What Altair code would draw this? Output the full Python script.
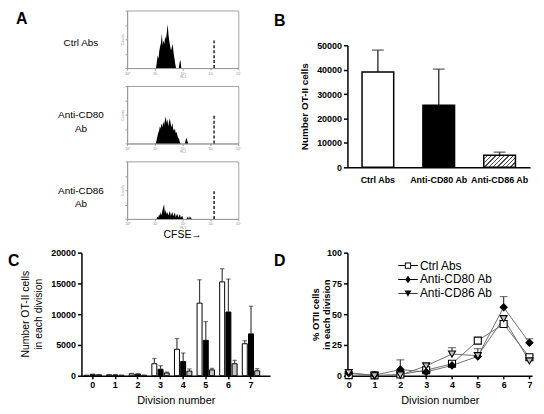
import altair as alt
import pandas as pd

FONT = "Liberation Sans"

groups = ["Ctrl Abs", "Anti-CD80 Ab", "Anti-CD86 Ab"]
group_fills = ["white", "black", "#c4c4c4"]

# ---------------- Panel A: CFSE histograms (x = log10 FL1, y = % of frame height)
ctrl_hist_x = [1.04, 1.07, 1.10, 1.13, 1.16, 1.19, 1.22, 1.25, 1.28, 1.31, 1.34, 1.37, 1.40, 1.43, 1.46,
               1.49, 1.52, 1.55, 1.58, 1.61, 1.64, 1.67, 1.70, 1.73, 1.76, 1.86, 1.89, 1.92, 1.95]
ctrl_hist_y = [0, 10, 22, 16, 30, 38, 44, 60, 40, 48, 42, 55, 50, 62, 76,
               58, 46, 38, 30, 36, 42, 28, 18, 8, 0, 0, 10, 14, 0]
cd80_hist_x = [1.03, 1.06, 1.09, 1.12, 1.15, 1.18, 1.21, 1.24, 1.27, 1.30, 1.33, 1.36, 1.39, 1.42, 1.45,
               1.48, 1.51, 1.54, 1.57, 1.60, 1.63, 1.66, 1.69, 1.72, 1.75, 1.78, 1.81, 1.84, 1.87, 1.90,
               1.93, 2.08, 2.11, 2.14, 2.17, 2.20]
cd80_hist_y = [0, 5, 12, 18, 22, 30, 26, 35, 28, 38, 32, 40, 47, 36, 42,
               30, 38, 43, 34, 28, 35, 25, 22, 26, 18, 20, 14, 10, 8, 2,
               0, 0, 6, 10, 4, 0]
cd86_hist_x = [1.06, 1.09, 1.12, 1.15, 1.18, 1.21, 1.24, 1.27, 1.30, 1.33, 1.36, 1.39, 1.42, 1.45, 1.48,
               1.51, 1.54, 1.57, 1.60, 1.63, 1.66, 1.69, 1.72, 1.75, 1.78, 1.81, 1.84, 1.87, 1.90, 1.93,
               1.96, 1.99, 2.02, 2.14, 2.17, 2.20, 2.23, 2.26, 2.29, 2.32]
cd86_hist_y = [0, 4, 2, 8, 5, 12, 6, 14, 20, 26, 10, 16, 8, 12, 6,
               10, 14, 5, 9, 12, 4, 8, 11, 3, 7, 9, 2, 6, 8, 2,
               4, 5, 0, 0, 4, 0, 5, 0, 4, 0]
cfse_marker_x = 3.13
cfse_marker_top = 48
hist_ticks_x = [0, 1, 2, 3, 4]
hist_ticks_y = [0, 25, 50, 75, 100]

# ---------------- Panel B: total OT-II cells
b_mean = [39000, 25400, 4900]
b_upper = [48000, 40200, 6200]

# ---------------- Panel C: cells per division
divisions = [0, 1, 2, 3, 4, 5, 6, 7]
c_ctrl = [50, 150, 300, 1950, 4300, 11800, 15250, 5200]
c_ctrl_upper = [80, 200, 380, 2800, 6050, 15600, 17400, 5700]
c_cd80 = [200, 120, 250, 1050, 2300, 5750, 10350, 6800]
c_cd80_upper = [260, 170, 320, 1650, 3700, 8800, 15700, 11300]
c_cd86 = [150, 60, 60, 450, 750, 950, 1950, 800]
c_cd86_upper = [200, 90, 90, 600, 1100, 1200, 2500, 1150]

# ---------------- Panel D: % cells per division
d_ctrl = [0.5, 0.3, 1.0, 4.5, 9.7, 28.5, 42.0, 15.0]
d_ctrl_upper = [0.5, 0.3, 1.0, 4.5, 11.0, 28.5, 42.0, 16.5]
d_cd80 = [2.0, 0.5, 5.0, 3.0, 8.4, 15.7, 55.6, 26.8]
d_cd80_upper = [2.0, 0.5, 12.9, 3.0, 8.4, 15.7, 64.3, 30.0]
d_cd86 = [2.5, 0.0, 0.5, 8.0, 17.6, 16.3, 46.4, 12.0]
d_cd86_upper = [2.5, 0.0, 0.5, 9.5, 22.8, 22.0, 46.4, 12.0]

# legend glyphs: line stubs + marker (filled shapes, ring for the open square)
legend_paths = [
    "M-2.8,-0.13L-0.9,-0.13L-0.9,0.13L-2.8,0.13Z M0.9,-0.13L2.8,-0.13L2.8,0.13L0.9,0.13Z "
    "M-0.9,-0.9L0.9,-0.9L0.9,0.9L-0.9,0.9Z M-0.62,-0.62L-0.62,0.62L0.62,0.62L0.62,-0.62Z",
    "M-2.8,-0.13L-0.75,-0.13L-0.75,0.13L-2.8,0.13Z M0.75,-0.13L2.8,-0.13L2.8,0.13L0.75,0.13Z "
    "M0,-1.1L0.8,0L0,1.1L-0.8,0Z",
    "M-2.8,-0.13L-0.5,-0.13L-0.5,0.13L-2.8,0.13Z M0.5,-0.13L2.8,-0.13L2.8,0.13L0.5,0.13Z "
    "M-1,-0.8L1,-0.8L0,1Z",
]

# diagonal hatching for the Anti-CD86 bar in panel B (a striped linear gradient)
hatch_stops = []
for k in range(10):
    a = k / 10.0
    hatch_stops += [{"offset": a, "color": "white"}, {"offset": a + 0.068, "color": "white"},
                    {"offset": a + 0.068, "color": "#4a4a4a"}, {"offset": a + 0.1, "color": "#4a4a4a"}]
hatch_fill = {"gradient": "linear", "x1": 0, "y1": 0, "x2": 1.2, "y2": 0.45, "stops": hatch_stops}


def axis(**kw):
    base = dict(grid=False, labelFont=FONT, labelFontSize=9, labelFontWeight="bold",
                labelColor="black", domainColor="black", domainWidth=1.5,
                tickColor="black", tickWidth=1.5, tickSize=4, labelPadding=2,
                titleFont=FONT, titleColor="black", labelFlush=False)
    base.update(kw)
    return alt.Axis(**base)


def letter(text, dx, dy):
    return alt.TitleParams(text, anchor="start", frame="group", orient="top", offset=0,
                           dx=dx, dy=dy, baseline="top", font=FONT, fontSize=16,
                           fontWeight="bold", color="black")


HW, HH = 112, 58


def hist_panel(xs, ys, label, label_y, title=None):
    df = pd.DataFrame({"fl": xs, "count": ys})
    mk = pd.DataFrame({"fl": [cfse_marker_x], "count": [0], "top": [cfse_marker_top]})
    xaxis = alt.Axis(values=hist_ticks_x,
                     labelExpr="'10' + ['\u2070','\u00b9','\u00b2','\u00b3','\u2074'][datum.value]",
                     labelFont=FONT, labelFontSize=3.5, labelColor="#888", labelPadding=1, labelFlush=False,
                     tickSize=2, tickColor="#999", domainColor="#999", domainWidth=1, grid=False,
                     title="FL1", titleFont=FONT, titleFontSize=3.5, titleColor="#888", titlePadding=0,
                     titleFontWeight="normal")
    yaxis = alt.Axis(values=hist_ticks_y, labelExpr="datum.value == 50 ? 'Counts' : ''",
                     labelFont=FONT, labelFontSize=3.5, labelColor="#888", labelAngle=270,
                     labelAlign="center", labelBaseline="bottom", labelPadding=1,
                     tickSize=2, tickColor="#999", domainColor="#999", domainWidth=1, grid=False,
                     title=label, titleAngle=0, titleAlign="center", titleBaseline="middle",
                     titleX=-47, titleY=label_y, titleFont=FONT, titleFontSize=10,
                     titleFontWeight="normal", titleColor="black", titleLineHeight=14)
    hx = alt.X("fl:Q", scale=alt.Scale(domain=[0, 4], nice=False, zero=False), axis=xaxis)
    hy = alt.Y("count:Q", scale=alt.Scale(domain=[0, 100], nice=False), axis=yaxis)
    area = alt.Chart(df).mark_area(color="black", interpolate="linear").encode(x=hx, y=hy)
    rule = alt.Chart(mk).mark_rule(color="black", strokeDash=[3, 2], strokeWidth=1.3).encode(
        x=hx, y=hy, y2="top:Q")
    props = dict(width=HW, height=HH, view=alt.ViewBackground(stroke="#a0a0a0", strokeWidth=1))
    if title is not None:
        props["title"] = title
    return alt.layer(area, rule).properties(**props)


A1 = hist_panel(ctrl_hist_x, ctrl_hist_y, "Ctrl Abs", HH * 0.56, letter("A", -112, 17))
A2 = hist_panel(cd80_hist_x, cd80_hist_y, ["Anti-CD80", "Ab"], HH * 0.5)
A3 = hist_panel(cd86_hist_x, cd86_hist_y, ["Anti-CD86", "Ab"], HH * 0.5,
                alt.TitleParams("CFSE\u2192", orient="bottom", anchor="middle", frame="group",
                                offset=0, dy=1, baseline="top", font=FONT, fontSize=10.5,
                                fontWeight="normal", color="black"))

# ---------------- Panel B
b_df = pd.DataFrame({"group": groups, "mean": b_mean, "upper": b_upper})
b_yaxis = axis(values=[0, 10000, 20000, 30000, 40000, 50000], format="d",
               title="Number OT-II cells", titleFontSize=10, titleFontWeight="bold",
               titleAngle=270, titleAlign="center", titleX=-43, titleBaseline="middle")
bx = alt.X("group:N", sort=groups, scale=alt.Scale(paddingInner=0.48, paddingOuter=0.24),
           axis=axis(title=None, ticks=False, labelAngle=0, labelFontSize=9, labelPadding=8))
by = alt.Y("mean:Q", scale=alt.Scale(domain=[0, 50000], nice=False), axis=b_yaxis)
by_up = alt.Y("upper:Q", scale=alt.Scale(domain=[0, 50000], nice=False), axis=b_yaxis)
b_err = alt.Chart(b_df).mark_rule(color="#404040", strokeWidth=1.5).encode(x=bx, y=by, y2="upper:Q")
b_cap = alt.Chart(b_df).mark_tick(color="#404040", thickness=1.5, size=12, orient="horizontal").encode(
    x=bx, y=by_up)
b_bars = alt.Chart(b_df).transform_filter(alt.datum.group != groups[2]).mark_bar(
    stroke="black", strokeWidth=1.5).encode(
    x=bx, y=by,
    fill=alt.Fill("group:N", sort=groups, scale=alt.Scale(domain=groups, range=group_fills), legend=None))
b_hatch = alt.Chart(b_df).transform_filter(alt.datum.group == groups[2]).mark_bar(
    stroke="black", strokeWidth=1.5, fill=hatch_fill).encode(x=bx, y=by)
B = alt.layer(b_err, b_cap, b_bars, b_hatch).properties(width=184, height=123, title=letter("B", -74, -12))

# ---------------- Panel C
c_rows = []
for g, vals, ups in zip(groups, [c_ctrl, c_cd80, c_cd86], [c_ctrl_upper, c_cd80_upper, c_cd86_upper]):
    for d, v, u in zip(divisions, vals, ups):
        c_rows.append({"division": d, "group": g, "value": v, "upper": u})
c_df = pd.DataFrame(c_rows)
cx_scale = alt.Scale(paddingInner=0.23, paddingOuter=0.285, align=0.2)
cxo = alt.XOffset("group:N", sort=groups, scale=alt.Scale(domain=groups, paddingInner=0.2, paddingOuter=0))
cx = alt.X("division:O", scale=cx_scale,
           axis=axis(labelAngle=0, tickSize=3, title="Division number", titleFontSize=11,
                     titleFontWeight="normal", titlePadding=5))
c_yaxis = axis(values=[0, 5000, 10000, 15000, 20000], format="d", title=None)
cy = alt.Y("value:Q", scale=alt.Scale(domain=[0, 20000], nice=False), axis=c_yaxis)
cy_up = alt.Y("upper:Q", scale=alt.Scale(domain=[0, 20000], nice=False), axis=c_yaxis)
c_err = alt.Chart(c_df).mark_rule(color="#404040", strokeWidth=1.2).encode(
    x=cx, xOffset=cxo, y=cy, y2="upper:Q")
c_cap = alt.Chart(c_df).mark_tick(color="#404040", thickness=1.2, size=4.5, orient="horizontal").encode(
    x=cx, xOffset=cxo, y=cy_up)
c_bars = alt.Chart(c_df).mark_bar(stroke="black", strokeWidth=1).encode(
    x=cx, xOffset=cxo, y=cy,
    fill=alt.Fill("group:N", sort=groups, scale=alt.Scale(domain=groups, range=group_fills), legend=None))
c_ytitle = alt.TitleParams(["Number OT-II cells", "in each division"], orient="left", anchor="middle",
                           frame="group", angle=270, offset=6, font=FONT, fontSize=10.5,
                           fontWeight="normal", lineHeight=13, color="black")
C = alt.layer(c_bars, c_err, c_cap).properties(width=190, height=124, title=c_ytitle)

# ---------------- Panel D
d_rows = []
for g, vals, ups in zip(groups, [d_ctrl, d_cd80, d_cd86], [d_ctrl_upper, d_cd80_upper, d_cd86_upper]):
    for d, v, u in zip(divisions, vals, ups):
        d_rows.append({"division": d, "group": g, "value": v, "upper": u})
d_df = pd.DataFrame(d_rows)
dx_scale = alt.Scale(domain=[-0.05, 7.1], nice=False, zero=False)
dy_scale = alt.Scale(domain=[0, 100], nice=False)
d_xaxis = axis(values=divisions, format="d", tickSize=3, title="Division number",
               titleFontSize=11, titleFontWeight="normal", titlePadding=5)
d_yaxis = axis(values=[0, 25, 50, 75, 100], format="d",
               title=["% OTII cells", "in each division"], titleFontSize=9.5,
               titleFontWeight="bold", titleLineHeight=11, titleAngle=270, titleAlign="center",
               titleX=-32.5, titleBaseline="middle")
dxe = alt.X("division:Q", scale=dx_scale, axis=d_xaxis)
dye = alt.Y("value:Q", scale=dy_scale, axis=d_yaxis)
dye_up = alt.Y("upper:Q", scale=dy_scale, axis=d_yaxis)
d_lines = alt.Chart(d_df).mark_line(color="#707070", strokeWidth=1).encode(
    x=dxe, y=dye, detail="group:N")
d_err = alt.Chart(d_df).transform_filter("datum.upper > datum.value").mark_rule(
    color="#404040", strokeWidth=1.2).encode(x=dxe, y=dye, y2="upper:Q")
d_cap = alt.Chart(d_df).transform_filter("datum.upper > datum.value").mark_tick(
    color="#404040", thickness=1.2, size=8, orient="horizontal").encode(x=dxe, y=dye_up)
d_pts = alt.Chart(d_df).mark_point(filled=True, stroke="black", strokeWidth=1.1, size=50, opacity=1).encode(
    x=dxe, y=dye,
    shape=alt.Shape("group:N", sort=groups,
                    scale=alt.Scale(domain=groups, range=["square", "diamond", "triangle-down"]), legend=None),
    fill=alt.Fill("group:N", sort=groups,
                  scale=alt.Scale(domain=groups, range=["white", "black", "black"]), legend=None))
d_leg = alt.Chart(d_df).transform_filter("false").mark_point(
    filled=True, color="black", size=49, opacity=1).encode(
    x=dxe, y=dye,
    shape=alt.Shape("group:N", sort=groups,
                    scale=alt.Scale(domain=groups, range=legend_paths),
                    legend=alt.Legend(title=None, orient="none", legendX=55, legendY=7,
                                      labelFont=FONT, labelFontSize=12, labelColor="black",
                                      symbolSize=49, symbolStrokeWidth=0, symbolOpacity=1,
                                      symbolFillColor="black", labelOffset=6, rowPadding=2,
                                      padding=0)))
D = alt.layer(d_lines, d_err, d_cap, d_pts, d_leg).resolve_scale(shape="independent").properties(
    width=186, height=124, title=letter("D", -74, 20))

# ---------------- layout
spacer_df = pd.DataFrame({"v": [0]})


def spacer(w, h):
    return alt.Chart(spacer_df).mark_point(opacity=0, size=1).encode(
        x=alt.X("v:Q", axis=None), y=alt.Y("v:Q", axis=None)).properties(width=w, height=h)


hist_col = alt.vconcat(A1, A2, A3, spacing=18, bounds="flush")
b_col = alt.vconcat(spacer(1, 1), B, spacing=34, bounds="flush")
inner = alt.hconcat(hist_col, b_col, spacing=222, bounds="flush")
top = alt.hconcat(spacer(1, 1), inner, spacing=45, bounds="flush")
bottom = alt.hconcat(C, D, spacing=78, bounds="flush", title=letter("C", -74, 20))

chart = alt.vconcat(top, bottom, spacing=244, bounds="flush", padding=0, background="white") \
    .configure(font=FONT).configure_view(stroke=None)

chart.save("out.html", embed_options={"renderer": "svg", "actions": False})
